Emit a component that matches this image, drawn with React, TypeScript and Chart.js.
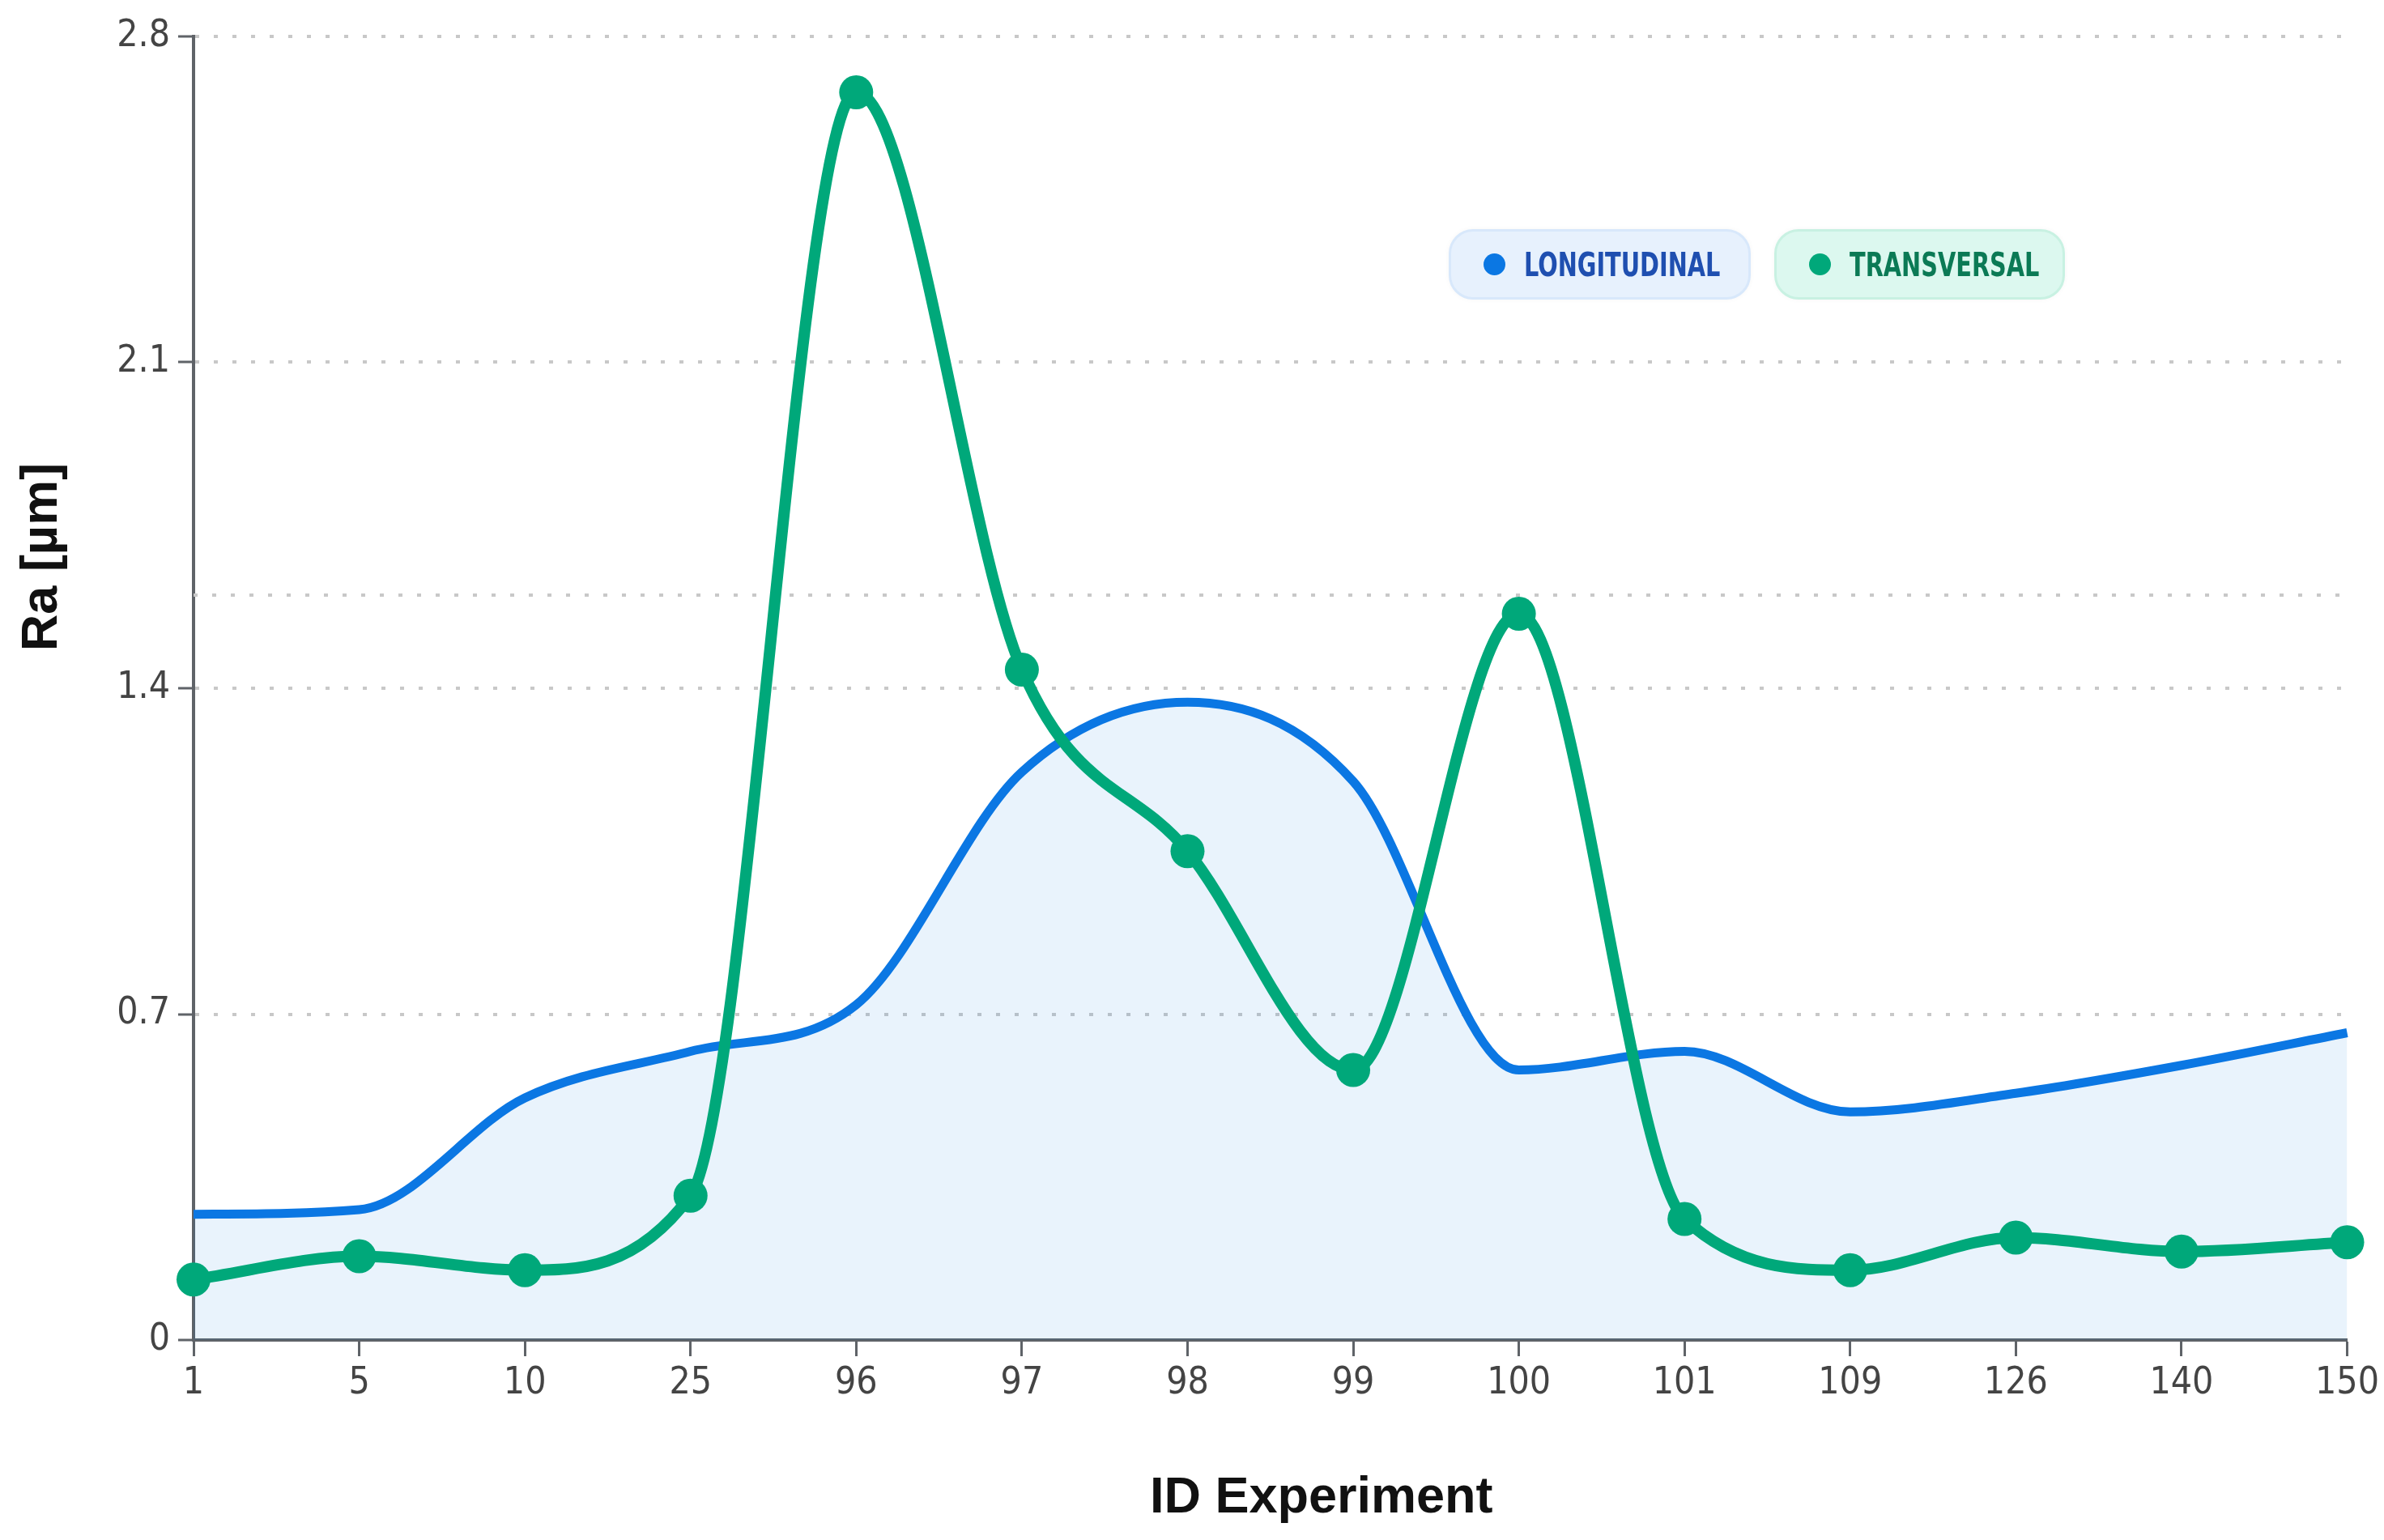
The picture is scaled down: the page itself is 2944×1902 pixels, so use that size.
import { useEffect, useRef } from 'react';
import { Chart, registerables } from 'chart.js';

Chart.register(...registerables);

const categories = ['1', '5', '10', '25', '96', '97', '98', '99', '100', '101', '109', '126', '140', '150'];
const longitudinal = [0.27, 0.28, 0.52, 0.62, 0.72, 1.22, 1.37, 1.2, 0.58, 0.62, 0.49, 0.53, 0.59, 0.66];
const transversal = [0.13, 0.18, 0.15, 0.31, 2.68, 1.44, 1.05, 0.58, 1.56, 0.26, 0.15, 0.22, 0.19, 0.21];
const yTicks = [0, 0.7, 1.4, 2.1, 2.8];
const refLine = 1.6;

const BLUE = '#0b77e3';
const GREEN = '#00a87a';
const AXIS = '#5f6368';
const GRID = '#c8c8c8';
const NARROW = '"Liberation Sans Narrow", "DejaVu Sans Condensed", "Liberation Sans", sans-serif';
const SANS = '"Liberation Sans", Arial, sans-serif';

// extra dotted line + axis titles, drawn on the canvas
const extrasPlugin = {
  id: 'extras',
  beforeDatasetsDraw(chart: any) {
    const { ctx, chartArea, scales } = chart;
    const y = scales.y.getPixelForValue(refLine);
    ctx.save();
    ctx.strokeStyle = GRID;
    ctx.lineWidth = 4;
    ctx.setLineDash([5, 18]);
    ctx.beginPath();
    ctx.moveTo(chartArea.left, y);
    ctx.lineTo(chartArea.right, y);
    ctx.stroke();
    ctx.restore();
  },
  afterDraw(chart: any) {
    const { ctx, chartArea } = chart;
    ctx.save();
    ctx.fillStyle = '#111';
    ctx.font = `bold 63px ${SANS}`;
    ctx.textAlign = 'center';
    ctx.textBaseline = 'alphabetic';
    ctx.fillText('ID Experiment', (chartArea.left + chartArea.right) / 2 + 63, 1868);
    ctx.translate(70, 688);
    ctx.rotate(-Math.PI / 2);
    ctx.fillText('Ra [µm]', 0, 0);
    ctx.restore();
  },
};

const pill = (left: number, width: number, bg: string, border: string, dot: string, color: string, label: string) => (
  <div
    style={{
      position: 'absolute',
      left,
      top: 283,
      width,
      height: 87,
      boxSizing: 'border-box',
      borderRadius: 30,
      background: bg,
      border: `3px solid ${border}`,
      boxShadow: '0 0 6px rgba(0,0,0,0.04)',
      display: 'flex',
      alignItems: 'center',
      paddingLeft: 40,
      fontFamily: NARROW,
      fontWeight: 'bold',
      fontSize: 40,
      color,
    }}
  >
    <span style={{ width: 27, height: 27, borderRadius: '50%', background: dot, marginRight: 23, flex: 'none' }} />
    <span style={{ display: 'inline-block', transform: 'scaleX(0.8)', transformOrigin: 'left center', whiteSpace: 'nowrap' }}>
      {label}
    </span>
  </div>
);

const App = () => {
  const canvasRef = useRef<HTMLCanvasElement>(null);
  const chartRef = useRef<Chart | null>(null);

  useEffect(() => {
    document.body.style.margin = '0';
    if (!canvasRef.current) return;
    const ctx = canvasRef.current.getContext('2d');
    if (!ctx) return;
    if (chartRef.current) chartRef.current.destroy();

    chartRef.current = new Chart(ctx, {
      type: 'line',
      data: {
        labels: categories,
        datasets: [
          {
            label: 'LONGITUDINAL',
            data: longitudinal,
            borderColor: BLUE,
            borderWidth: 11,
            backgroundColor: 'rgba(11, 119, 227, 0.09)',
            fill: 'origin',
            cubicInterpolationMode: 'monotone',
            pointRadius: 0,
            order: 1,
          },
          {
            label: 'TRANSVERSAL',
            data: transversal,
            borderColor: GREEN,
            borderWidth: 14,
            backgroundColor: GREEN,
            fill: false,
            cubicInterpolationMode: 'monotone',
            pointRadius: 21,
            pointBackgroundColor: GREEN,
            pointBorderWidth: 0,
            clip: false,
            order: 0,
          },
        ],
      },
      options: {
        animation: false,
        responsive: true,
        maintainAspectRatio: false,
        events: [],
        layout: { padding: { left: 0, top: 45, right: 43, bottom: 0 } },
        plugins: {
          legend: { display: false },
          tooltip: { enabled: false },
        },
        scales: {
          x: {
            type: 'category',
            offset: false,
            afterFit: (s: any) => { s.height = 247; },
            grid: { drawOnChartArea: false, drawTicks: true, tickLength: 20, tickColor: AXIS, tickWidth: 3 },
            border: { display: true, color: AXIS, width: 4 },
            ticks: { color: '#444', font: { family: NARROW, size: 46 }, padding: 6, maxRotation: 0, autoSkip: false },
          },
          y: {
            min: 0,
            max: 2.8,
            afterFit: (s: any) => { s.width = 239; },
            afterBuildTicks: (s: any) => { s.ticks = yTicks.map((v) => ({ value: v })); },
            grid: {
              color: (c: any) => (c.tick && c.tick.value === 0 ? 'rgba(0,0,0,0)' : GRID),
              lineWidth: 4,
              tickLength: 19,
              tickColor: AXIS,
              tickWidth: 3,
              tickBorderDash: [],
            },
            border: { display: true, color: AXIS, width: 4, dash: [5, 18] },
            ticks: {
              color: '#444',
              font: { family: NARROW, size: 46 },
              padding: 10,
              callback: (v: any) => String(Number(Number(v).toFixed(1))),
            },
          },
        },
      },
      plugins: [extrasPlugin],
    });

    return () => {
      if (chartRef.current) {
        chartRef.current.destroy();
        chartRef.current = null;
      }
    };
  }, []);

  return (
    <div style={{ position: 'relative', width: 2944, height: 1902, background: '#fff' }}>
      <canvas ref={canvasRef}></canvas>
      {pill(1789, 373, '#e7f1fd', '#d8e8fb', BLUE, '#1f4fb0', 'LONGITUDINAL')}
      {pill(2191, 359, '#dcf8ef', '#c8f1e2', GREEN, '#0b7a55', 'TRANSVERSAL')}
    </div>
  );
};

export default App;
